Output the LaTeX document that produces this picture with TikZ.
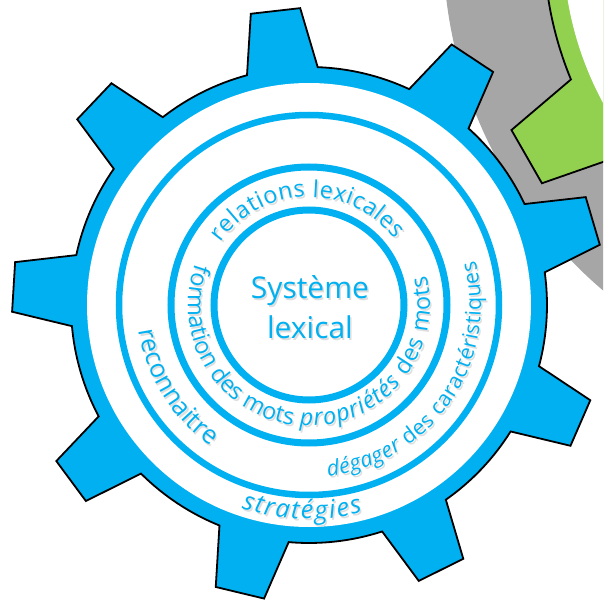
\documentclass[tikz,border=0pt]{standalone}
\usepackage{fontspec}
\setmainfont{Open Sans}
\usetikzlibrary{decorations.text}
\definecolor{gearblue}{RGB}{0,176,240}
\definecolor{geargreen}{RGB}{146,208,80}
\definecolor{geargray}{RGB}{166,166,166}
\definecolor{txtshadow}{RGB}{222,222,222}
\newcommand\gtA{\fontsize{23.5pt}{27pt}\selectfont}
\newcommand\gtB{\fontsize{21.5pt}{25pt}\selectfont}
\newcommand\gtC{\fontsize{25.5pt}{29pt}\selectfont}
\newcommand\labels[2]{%
  \path[shift={(#2)},arctext={#1}{|\gtA|relations lexicales}] (144.7:108pt) arc[start angle=144.7, end angle=37.5, radius=108pt];
  \path[shift={(#2)},arctext={#1}{|\gtA|formation des mots}] (160:121pt) arc[start angle=160, end angle=262, radius=121pt];
  \path[shift={(#2)},arctext={#1}{|\gtA\itshape|propriétés |\gtA\upshape|des mots}] (265.6:121pt) arc[start angle=265.6, end angle=374.3, radius=121pt];
  \path[shift={(#2)},arctext={#1}{|\gtC|reconnaitre}] (188.4:172pt) arc[start angle=188.4, end angle=235.1, radius=172pt];
  \path[shift={(#2)},arctext={#1}{|\gtB\itshape|dégager |\gtB\upshape|des caractéristiques}] (276.3:172pt) arc[start angle=276.3, end angle=374.9, radius=172pt];
  \path[shift={(#2)},arctext={#1}{|\gtC\itshape|stratégies}] (251.6:214pt) arc[start angle=251.6, end angle=284.5, radius=214pt];
}
\begin{document}
\begin{tikzpicture}[x=1pt,y=1pt,
  bluebody/.style={fill=gearblue,draw=black,line width=1.8pt,line join=miter},
  greenbody/.style={fill=geargreen,draw=black,line width=1.8pt,line join=miter},
  ring/.style={draw=gearblue,line width=7pt},
  arctext/.style 2 args={decorate,decoration={text along path,text color=#1,text align=fit to path,text={#2}}}]
\useasboundingbox (-309,-303) rectangle (294,305);
\begin{scope}
\clip (-309,-303) rectangle (294,305);
% gray gear behind
\fill[geargray] (589,361) circle[radius=455pt];
% green gear
\begin{scope}[shift={(589,361)}]
\draw[greenbody] (202.5:354pt) foreach \a in {209.8,239.8,...,539.8} {-- (\a-4.1:429pt) -- (\a+4.1:429pt) -- (\a+7.3:354pt) arc[start angle=\a+7.3, end angle=\a+22.7, radius=354pt]} -- cycle;
\fill[white] (0,0) circle[radius=335pt];
\end{scope}
\end{scope}
% blue gear
\draw[bluebody] (7.9:238pt) foreach \a in {16.5,56.5,...,336.5} {-- (\a-4.8:297pt) -- (\a+4.8:297pt) -- (\a+8.6:238pt) arc[start angle=\a+8.6, end angle=\a+31.4, radius=238pt]} -- cycle;
\fill[white] (0,0) circle[radius=222pt];
\draw[ring] (0,0) circle[radius=95pt];
\draw[ring] (0,0) circle[radius=138pt];
\draw[ring,line width=6.5pt] (0,0) circle[radius=190pt];
\node[font=\fontsize{30pt}{40pt}\selectfont,text=txtshadow,align=center] (centershadow) at (2.5,-4) {Système\\lexical};
\node[font=\fontsize{30pt}{40pt}\selectfont,text=gearblue,align=center] (center) at (1,-2) {Système\\lexical};
% curved labels: soft shadow, then text
\labels{txtshadow}{1.5,-2}
\labels{gearblue}{0,0}
\end{tikzpicture}
\end{document}
